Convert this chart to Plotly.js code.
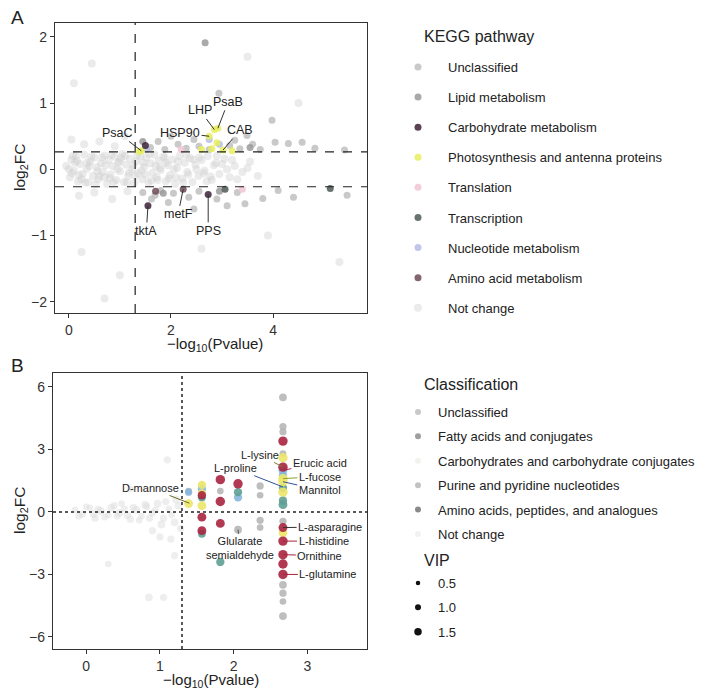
<!DOCTYPE html>
<html>
<head>
<meta charset="utf-8">
<script src="https://cdn.plot.ly/plotly-3.0.1.min.js"></script>
<style>html,body{margin:0;padding:0;background:#fff;}#chart{width:712px;height:690px;}</style>
</head>
<body>
<div id="chart"></div>
<script>
// ---------- Panel A data (proteins, KEGG pathway) ----------
const aNotChangeX = [-0.05,0.02,0.05,0.1,0.14,0.18,0.22,0.27,0.3,0.35,0.38,0.42,0.47,0.5,0.55,0.58,0.63,0.67,0.7,0.75,0.78,0.82,0.86,0.9,0.93,0.97,1.0,1.05,1.08,1.12,1.16,1.2,1.24,1.28,1.32,1.36,1.4,1.44,1.48,1.52,1.56,1.6,1.64,1.68,1.72,1.76,1.8,1.85,1.9,1.94,1.98,2.03,2.08,2.12,2.17,2.22,2.27,2.32,2.37,2.42,2.48,2.54,2.6,2.66,2.72,2.8,2.88,2.95,3.05,3.15,3.25,3.4,3.55,3.7,
  0.0,0.12,0.25,0.4,0.52,0.65,0.8,0.95,1.1,1.3,1.5,1.7,1.9,2.1,2.3,2.5,2.7,2.9,3.1,
  0.06,0.16,0.32,0.44,0.6,0.72,0.88,1.02,1.18,1.34,1.46,1.62,1.78,1.96,2.14,2.34,2.56,2.78,3.0,3.3,
  0.08,0.2,0.36,0.56,0.7,0.84,0.99,1.14,1.26,1.42,1.58,1.74,1.88,2.06,2.24,2.44,2.64,2.84,3.2,3.5,
  0.05,0.3,0.6,0.9,1.1,0.2,0.5,0.85,1.15,0.1,0.25,1.0,3.9,2.6,0.45,4.5,5.3,3.5,0.7];
const aNotChangeY = [0.05,-0.12,0.15,-0.02,0.2,-0.18,0.08,-0.07,0.22,0.01,-0.2,0.12,-0.1,0.18,0.03,-0.15,0.09,-0.04,0.21,-0.22,0.14,-0.08,0.05,0.19,-0.16,0.1,-0.03,0.23,-0.19,0.07,-0.1,0.16,0.0,-0.21,0.12,-0.06,0.2,-0.15,0.04,0.17,-0.2,0.09,-0.05,0.22,-0.12,0.13,-0.01,0.19,-0.18,0.06,-0.09,0.15,-0.22,0.02,0.2,-0.14,0.1,-0.04,0.17,-0.19,0.07,-0.1,0.14,-0.02,0.2,-0.16,0.09,-0.07,0.16,-0.12,0.05,-0.04,0.12,-0.1,
  0.0,0.1,-0.15,0.05,-0.22,0.18,-0.13,0.0,0.2,-0.1,-0.08,0.05,0.1,-0.12,0.22,0.0,-0.18,0.2,0.0,
  -0.06,0.13,-0.2,0.19,-0.1,0.06,-0.19,0.17,-0.05,0.21,0.1,-0.17,0.02,-0.14,0.12,-0.08,0.18,-0.11,0.08,-0.15,
  0.2,-0.09,0.1,-0.03,-0.12,0.22,0.12,-0.2,0.06,-0.02,0.23,-0.16,0.18,0.0,-0.2,0.15,-0.06,0.06,0.14,0.02,
  0.45,0.38,0.42,0.35,0.5,-0.4,-0.35,-0.45,-0.33,1.3,-1.25,-1.6,-1.0,-1.2,1.6,1.0,-1.4,1.7,-1.95];
const aUnclassX = [1.6,1.75,1.88,2.0,2.14,2.3,2.45,2.55,2.75,3.15,3.25,3.35,3.6,3.75,4.04,4.3,4.57,4.82,5.4,2.94,3.98,3.49,
  1.45,1.62,1.69,1.8,1.95,2.05,2.35,2.55,2.9,3.1,3.3,3.45,3.8,4.1,4.4,5.45,2.45];
const aUnclassY = [0.33,0.42,0.3,0.5,0.38,0.32,0.45,0.35,0.3,0.36,0.44,0.31,0.38,0.3,0.41,0.39,0.41,0.32,0.29,1.15,0.74,0.51,
  -0.35,-0.45,-0.39,-0.32,-0.5,-0.36,-0.42,-0.33,-0.45,-0.55,-0.35,-0.52,-0.44,-0.32,-0.42,-0.39,-0.6];
const aLipidX = [2.67,1.45,3.55,1.85,2.95];
const aLipidY = [1.91,0.42,0.33,-0.36,-0.33];
const aCarbX = [1.5,1.55,2.73];
const aCarbY = [0.36,-0.55,-0.38];
const aPhotoX = [1.42,2.85,2.92,2.75,3.02,2.6,2.8,3.2,2.9,1.38];
const aPhotoY = [0.28,0.6,0.62,0.5,0.29,0.3,0.31,0.28,0.4,0.27];
const aTranslX = [2.2,3.4];
const aTranslY = [0.3,-0.3];
const aTranscX = [3.06,5.12];
const aTranscY = [-0.3,-0.29];
const aNuclX = [1.52,2.75,2.95];
const aNuclY = [0.3,0.45,0.38];
const aAminoX = [2.24,1.7];
const aAminoY = [-0.3,-0.33];
const aThreshX = 1.3;
const aThreshY = 0.263;

// ---------- Panel B data (metabolites) ----------
const bNotChangeX = [-0.15,-0.05,0.05,0.12,0.2,0.3,0.38,0.45,0.52,0.6,0.68,0.75,0.82,0.9,0.97,1.05,1.12,1.2,1.25,0.85,1.05,1.2,1.0,0.6,0.3,1.1,0.9,1.15,
  -0.1,0.0,0.1,0.16,0.25,0.34,0.42,0.48,0.56,0.64,0.72,0.8,0.86,0.94,1.02,1.08,1.16,1.22,1.28];
const bNotChangeY = [0.1,-0.1,0.2,-0.3,0.05,-0.15,0.3,-0.05,0.15,-0.35,0.1,-0.2,0.25,-0.05,0.4,-0.3,0.15,-0.5,0.3,-4.1,-4.1,-2.1,-1.2,1.1,-2.5,2.5,-0.9,-1.3,
  -0.2,0.25,-0.1,0.12,-0.25,0.2,-0.2,0.4,-0.15,0.22,-0.4,0.35,-0.3,0.1,-0.6,0.5,-0.15,0.6,-0.8];
const bNotChangeVip = [1.2,1.3,1.2,1.3,1.4,1.2,1.3,1.4,1.2,1.3,1.4,1.2,1.3,1.3,1.4,1.3,1.2,1.4,1.3,1.4,1.3,1.3,1.3,1.2,1.2,1.3,1.3,1.3,
  1.3,1.2,1.4,1.3,1.2,1.4,1.3,1.2,1.4,1.3,1.2,1.4,1.3,1.2,1.4,1.3,1.2,1.4,1.3];
const bUnclassX = [2.67,2.67,2.67,2.67,2.67,2.67,2.67,2.67,2.36,2.36,2.36,2.36,1.82,1.39,2.06,2.67];
const bUnclassY = [5.5,4.1,3.85,2.8,-0.45,-3.5,-3.9,-5.0,1.25,0.8,-0.4,-0.75,1.0,1.0,-0.85,-4.3];
const bUnclassVip = [1.4,1.3,1.3,1.2,1.3,1.4,1.3,1.4,1.3,1.2,1.3,1.2,1.2,1.2,1.4,1.2];
const bFattyX = [2.67,1.57,2.06,2.67,1.39];
const bFattyY = [2.0,1.1,0.7,1.75,0.95];
const bFattyVip = [1.6,1.5,1.5,1.5,1.3];
const bCarbX = [1.39,1.57,1.57,2.67,2.67,2.67,2.67,2.67,1.57];
const bCarbY = [0.4,1.3,0.3,2.6,1.6,1.45,0.95,-1.0,0.9];
const bCarbVip = [1.6,1.5,1.6,1.7,1.7,1.7,1.7,1.6,1.4];
const bPurineX = [2.67,1.57,1.57,1.82,2.06,2.67,2.67];
const bPurineY = [0.35,0.7,-1.05,-2.4,0.95,0.55,1.15];
const bPurineVip = [1.6,1.5,1.4,1.5,1.5,1.5,1.5];
const bAminoX = [2.67,2.67,2.67,2.67,2.67,2.67,1.57,1.57,1.82,1.82,1.82,2.06,2.67,1.57];
const bAminoY = [3.4,2.15,-1.4,-2.05,-2.5,-3.0,-0.25,-0.9,1.55,0.5,-0.55,1.35,-0.75,0.8];
const bAminoVip = [1.7,1.7,1.7,1.7,1.7,1.7,1.6,1.6,1.7,1.7,1.6,1.7,1.6,1.5];
const bVipLegend = [0.5, 1.0, 1.5];
const bThreshX = 1.3;
const bThreshY = 0;

// labels
const aLabels = ['PsaC','LHP','PsaB','HSP90','CAB','tktA','metF','PPS'];
const aLabelPtX = [1.42,2.85,2.92,2.75,3.02,1.55,2.24,2.73];
const aLabelPtY = [0.28,0.6,0.62,0.5,0.29,-0.55,-0.3,-0.38];
const aLabelTxX = [0.96,2.57,3.12,2.18,3.35,1.52,2.14,2.73];
const aLabelTxY = [0.55,0.89,1.02,0.55,0.59,-0.93,-0.68,-0.93];

const bLabels = ['L-lysine','Erucic acid','L-proline','L-fucose','Mannitol','D-mannose','L-asparagine','L-histidine','Ornithine','L-glutamine','Glularate<br>semialdehyde'];
const bLabelPtX = [2.67,2.67,2.67,2.67,2.67,1.4,2.67,2.67,2.67,2.67,2.06];
const bLabelPtY = [2.15,2.0,1.2,1.6,1.45,0.42,-0.75,-1.4,-2.05,-3.0,-0.85];
const bLabelTxX = [2.36,3.17,2.02,3.17,3.17,0.87,3.31,3.22,3.17,3.28,2.09];
const bLabelTxY = [2.74,2.35,2.1,1.7,1.05,1.15,-0.72,-1.4,-2.1,-3.0,-1.75];
const bLabelCol = ['#7a7a30','#a8243f','#3050a0','#8aa030','#3050a0','#6a6a20','#333333','#a8243f','#a8243f','#a8243f','#555555'];

const FONT = 'Liberation Sans, Arial, sans-serif';
const W = 712, H = 690;
const px = v => v / W;
const py = v => 1 - v / H;

const traces = [];
function aTrace(name, x, y, color, rank, size, op) {
  traces.push({type:'scatter', mode:'markers', x:x, y:y, xaxis:'x', yaxis:'y', name:name,
    legend:'legend', legendgroup:'a'+rank, legendrank:rank,
    marker:{color:color, size:size||7, opacity:op||0.85, line:{width:0}}, hoverinfo:'skip'});
}
aTrace('Not change', aNotChangeX, aNotChangeY, '#cdcdcd', 9, 8, 0.4);
aTrace('Unclassified', aUnclassX, aUnclassY, '#c0c0c0', 1);
aTrace('Lipid metabolism', aLipidX, aLipidY, '#9a9a9a', 2);
aTrace('Translation', aTranslX, aTranslY, '#f2c4d6', 5);
aTrace('Nucleotide metabolism', aNuclX, aNuclY, '#b5bde6', 7);
aTrace('Photosynthesis and antenna proteins', aPhotoX, aPhotoY, '#e6ee5e', 4);
aTrace('Transcription', aTranscX, aTranscY, '#4d5b56', 6);
aTrace('Amino acid metabolism', aAminoX, aAminoY, '#6c4a57', 8);
aTrace('Carbohydrate metabolism', aCarbX, aCarbY, '#3e2238', 3);

const SREF = 0.18;
function bTrace(name, x, y, vip, color, op) {
  traces.push({type:'scatter', mode:'markers', x:x, y:y, xaxis:'x2', yaxis:'y2', name:name, showlegend:false,
    marker:{color:color, size:vip, sizeref:SREF, sizemode:'diameter', opacity:op||0.9, line:{width:0}}, hoverinfo:'skip'});
}
bTrace('Not change', bNotChangeX, bNotChangeY, bNotChangeVip, '#dadada', 0.45);
bTrace('Unclassified', bUnclassX, bUnclassY, bUnclassVip, '#b3b3b3', 0.85);
bTrace('Fatty acids and conjugates', bFattyX, bFattyY, bFattyVip, '#86b6de');
bTrace('Purine and pyridine nucleotides', bPurineX, bPurineY, bPurineVip, '#5e9e94');
bTrace('Carbohydrates and carbohydrate conjugates', bCarbX, bCarbY, bCarbVip, '#ece66a');
bTrace('Amino acids, peptides, and analogues', bAminoX, bAminoY, bAminoVip, '#a8243f');

// legend-only entries for panel B
const bLegNames = ['Unclassified','Fatty acids and conjugates','Carbohydrates and carbohydrate conjugates','Purine and pyridine nucleotides','Amino acids, peptides, and analogues','Not change'];
const bLegCols = ['#c8c8c8','#9e9e9e','#f2f2ee','#c2c2c2','#8a8a8a','#f2f2f2'];
bLegNames.forEach((n,i) => traces.push({type:'scatter', mode:'markers', x:[null], y:[null], xaxis:'x2', yaxis:'y2',
  name:n, legend:'legend2', legendgroup:'b'+i, marker:{color:bLegCols[i], size:6}, hoverinfo:'skip'}));
bVipLegend.forEach((v,i) => traces.push({type:'scatter', mode:'markers', x:[null], y:[null], xaxis:'x2', yaxis:'y2',
  name:v.toFixed(1), legend:'legend3', legendgroup:'v'+i, marker:{color:'#111', size:[4.5,6,7.5][i]}, hoverinfo:'skip'}));

const annotations = [];
aLabels.forEach((t,i) => annotations.push({x:aLabelPtX[i], y:aLabelPtY[i], ax:aLabelTxX[i], ay:aLabelTxY[i],
  xref:'x', yref:'y', axref:'x', ayref:'y', text:t, showarrow:true, arrowhead:0, arrowwidth:1, arrowcolor:'#333',
  standoff:0, startstandoff:0, font:{family:FONT, size:12.5, color:'#222'}}));
bLabels.forEach((t,i) => annotations.push({x:bLabelPtX[i], y:bLabelPtY[i], ax:bLabelTxX[i], ay:bLabelTxY[i],
  xref:'x2', yref:'y2', axref:'x2', ayref:'y2', text:t, showarrow:true, arrowhead:0, arrowwidth:1, arrowcolor:bLabelCol[i],
  standoff:0, startstandoff:0, font:{family:FONT, size:11, color:'#222'}}));

function ptext(text, x, y, size, opts) {
  annotations.push(Object.assign({text:text, x:px(x), y:py(y), xref:'paper', yref:'paper', showarrow:false,
    xanchor:'center', yanchor:'middle', font:{family:FONT, size:size, color:'#222'}}, opts||{}));
}
ptext('A', 17, 17, 19);
ptext('B', 17, 365, 19);
ptext('\u2212log<sub>10</sub>(Pvalue)', 215, 344, 15);
ptext('\u2212log<sub>10</sub>(Pvalue)', 211, 680, 15);
ptext('log<sub>2</sub>FC', 20, 168, 15.5, {textangle:-90});
ptext('log<sub>2</sub>FC', 20, 511, 15.5, {textangle:-90});
ptext('KEGG pathway', 422, 37, 16, {xanchor:'left'});
ptext('Classification', 422, 384, 16, {xanchor:'left'});
ptext('VIP', 422, 560, 16, {xanchor:'left'});

const shapes = [
  {type:'line', xref:'x', yref:'y domain', x0:aThreshX, x1:aThreshX, y0:0, y1:1, line:{color:'#222', width:1.2, dash:'dash'}},
  {type:'line', xref:'x domain', yref:'y', x0:0, x1:1, y0:aThreshY, y1:aThreshY, line:{color:'#222', width:1.2, dash:'dash'}},
  {type:'line', xref:'x domain', yref:'y', x0:0, x1:1, y0:-aThreshY, y1:-aThreshY, line:{color:'#222', width:1.2, dash:'dash'}},
  {type:'line', xref:'x2', yref:'y2 domain', x0:bThreshX, x1:bThreshX, y0:0, y1:1, line:{color:'#222', width:1.5, dash:'dot'}},
  {type:'line', xref:'x2 domain', yref:'y2', x0:0, x1:1, y0:bThreshY, y1:bThreshY, line:{color:'#222', width:1.5, dash:'dot'}}
];

const axBase = {showline:true, mirror:true, linecolor:'#333', linewidth:1.2, ticks:'outside', ticklen:4, tickcolor:'#333',
  showgrid:false, zeroline:false, tickfont:{family:FONT, size:14, color:'#333'}, automargin:false, fixedrange:true};

const legBase = {xanchor:'left', yanchor:'top', bgcolor:'rgba(0,0,0,0)', traceorder:'grouped', itemsizing:'trace',
  font:{family:FONT, size:13, color:'#222'}, itemclick:false, itemdoubleclick:false};

const layout = {
  width:W, height:H, margin:{l:0, r:0, t:0, b:0}, paper_bgcolor:'#fff', plot_bgcolor:'#fff',
  font:{family:FONT, color:'#222'},
  xaxis: Object.assign({}, axBase, {domain:[px(55), px(367)], range:[-0.27, 5.84], tickvals:[0,2,4], anchor:'y'}),
  yaxis: Object.assign({}, axBase, {domain:[py(313), py(23)], range:[-2.17, 2.21], tickvals:[-2,-1,0,1,2], anchor:'x'}),
  xaxis2: Object.assign({}, axBase, {domain:[px(53), px(367)], range:[-0.45, 3.81], tickvals:[0,1,2,3], anchor:'y2'}),
  yaxis2: Object.assign({}, axBase, {domain:[py(649), py(373)], range:[-6.58, 6.67], tickvals:[-6,-3,0,3,6], anchor:'x2'}),
  legend: Object.assign({}, legBase, {x:px(388), y:py(52), itemwidth:50, tracegroupgap:10.2}),
  legend2: Object.assign({}, legBase, {x:px(398), y:py(397), itemwidth:30, tracegroupgap:4.5}),
  legend3: Object.assign({}, legBase, {x:px(398), y:py(568), itemwidth:30, tracegroupgap:4.5}),
  shapes:shapes, annotations:annotations, showlegend:true
};

Plotly.newPlot('chart', traces, layout, {staticPlot:true, displayModeBar:false});
</script>
</body>
</html>
